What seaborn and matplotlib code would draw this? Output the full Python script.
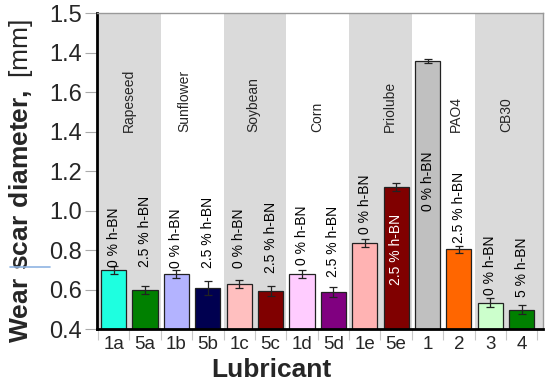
import matplotlib
matplotlib.use("Agg")
import matplotlib.pyplot as plt
import seaborn as sns
import pandas as pds
from matplotlib.lines import Line2D

# Данные
lubricants = ["1a", "5a", "1b", "5b", "1c", "5c", "1d", "5d", "1e", "5e", "1", "2", "3", "4"]
wear_scar = [0.70, 0.60, 0.68, 0.61, 0.63, 0.595, 0.68, 0.59, 0.835, 1.12, 1.76, 0.805, 0.535, 0.50]
wear_err = [0.02, 0.02, 0.02, 0.035, 0.022, 0.024, 0.022, 0.024, 0.02, 0.021, 0.01, 0.017, 0.023, 0.025]
hbn_labels = ["0 % h-BN", "2.5 % h-BN", "0 % h-BN", "2.5 % h-BN", "0 % h-BN", "2.5 % h-BN",
              "0 % h-BN", "2.5 % h-BN", "0 % h-BN", "2.5 % h-BN", "0 % h-BN", "2.5 % h-BN",
              "0 % h-BN", "5 % h-BN"]
oil_names = ["Rapeseed", "Sunflower", "Soybean", "Corn", "Priolube", "PAO4", "CB30"]
y_ticks = [0.4, 0.6, 0.8, 1.0, 1.2, 1.4, 1.6, 1.8, 2.0]
y_tick_labels = ["0.4", "0.6", "0.8", "1.0", "1.2", "1.4", "1.6", "1.4", "1.5"]

bar_colors = ["#1effe0", "#008000", "#b3b3ff", "#000050", "#ffbfbf", "#800000", "#ffccff",
              "#800080", "#ffb3b3", "#800000", "#c0c0c0", "#ff6600", "#ccffcc", "#008000"]

# Положение подписей (в единицах оси Y) и их цвет
label_y = [0.715, 0.715, 0.71, 0.71, 0.71, 0.685, 0.725, 0.665, 0.885, 0.625, 1.0, 0.835, 0.575, 0.565]
label_color = ["black"] * 9 + ["white"] + ["black"] * 4
oil_x = [0.5, 2.25, 4.45, 6.5, 8.8, 10.9, 12.5]
shaded_spans = [(-0.6, 1.5), (3.5, 5.5), (7.5, 9.5), (11.5, 13.7)]

sns.set_theme(style="white")
plt.rcParams["font.family"] = ["Liberation Sans", "DejaVu Sans"]
plt.rcParams["mathtext.fontset"] = "custom"
plt.rcParams["mathtext.bf"] = "Liberation Sans:bold"
plt.rcParams["mathtext.rm"] = "Liberation Sans"

df = pds.DataFrame({"lubricant": lubricants, "wear": wear_scar})

fig = plt.figure(figsize=(5.5, 3.86), dpi=100)
ax = fig.add_axes([0.1764, 0.1469, 0.8109, 0.8186])

# Серые полосы для групп масел
for x0, x1 in shaded_spans:
    ax.axvspan(x0, x1, color="#dadada", zorder=0, lw=0)

sns.barplot(data=df, x="lubricant", y="wear", hue="lubricant", palette=bar_colors,
            legend=False, errorbar=None, width=0.8, saturation=1, edgecolor="#222222",
            linewidth=0.9, ax=ax, zorder=2)
ax.errorbar(range(len(lubricants)), wear_scar, yerr=wear_err, fmt="none", ecolor="#222222",
            elinewidth=0.9, capsize=3, capthick=0.9, zorder=3)

# Подписи над столбцами
for i, (txt, yv, col) in enumerate(zip(hbn_labels, label_y, label_color)):
    ax.text(i, yv, txt, rotation=90, ha="center", va="bottom", fontsize=10, color=col, zorder=4)

for xo, name in zip(oil_x, oil_names):
    ax.text(xo, 1.40, name, rotation=90, ha="center", va="bottom", fontsize=10, zorder=4)

ax.set_ylim(0.4, 2.0)
ax.set_xlim(-0.53, 13.68)
ax.set_yticks(y_ticks)
ax.set_yticklabels(y_tick_labels, fontsize=17)
ax.tick_params(axis="y", which="major", direction="out", length=9, width=0.8, color="#aaaaaa",
               pad=2, left=True)
ax.set_xticks(range(len(lubricants)))
ax.set_xticklabels(lubricants, fontsize=13.5)
ax.set_xticks([i - 0.5 for i in range(len(lubricants) + 1)], minor=True)
ax.tick_params(axis="x", which="major", length=0, pad=5)
ax.tick_params(axis="x", which="minor", direction="out", length=8, width=0.8, color="#c8c8c8",
               bottom=True)

for side in ["left", "bottom"]:
    ax.spines[side].set_color("black")
    ax.spines[side].set_linewidth(2)
for side in ["top", "right"]:
    ax.spines[side].set_color("#999999")
    ax.spines[side].set_linewidth(1)

ax.set_xlabel("Lubricant", fontsize=19, fontweight="bold")
ax.xaxis.set_label_coords(0.39, -0.09)
ax.set_ylabel(r"$\mathbf{Wear\ scar\ diameter,}$ [mm]", fontsize=19)
ax.yaxis.set_label_coords(-0.14, 0.47)

# Синяя чёрточка у подписи оси
fig.add_artist(Line2D([10 / 550, 50 / 550], [1 - 266.7 / 386] * 2, color="#8fb4e3", lw=1.2))

fig.savefig("out.png", dpi=100)
